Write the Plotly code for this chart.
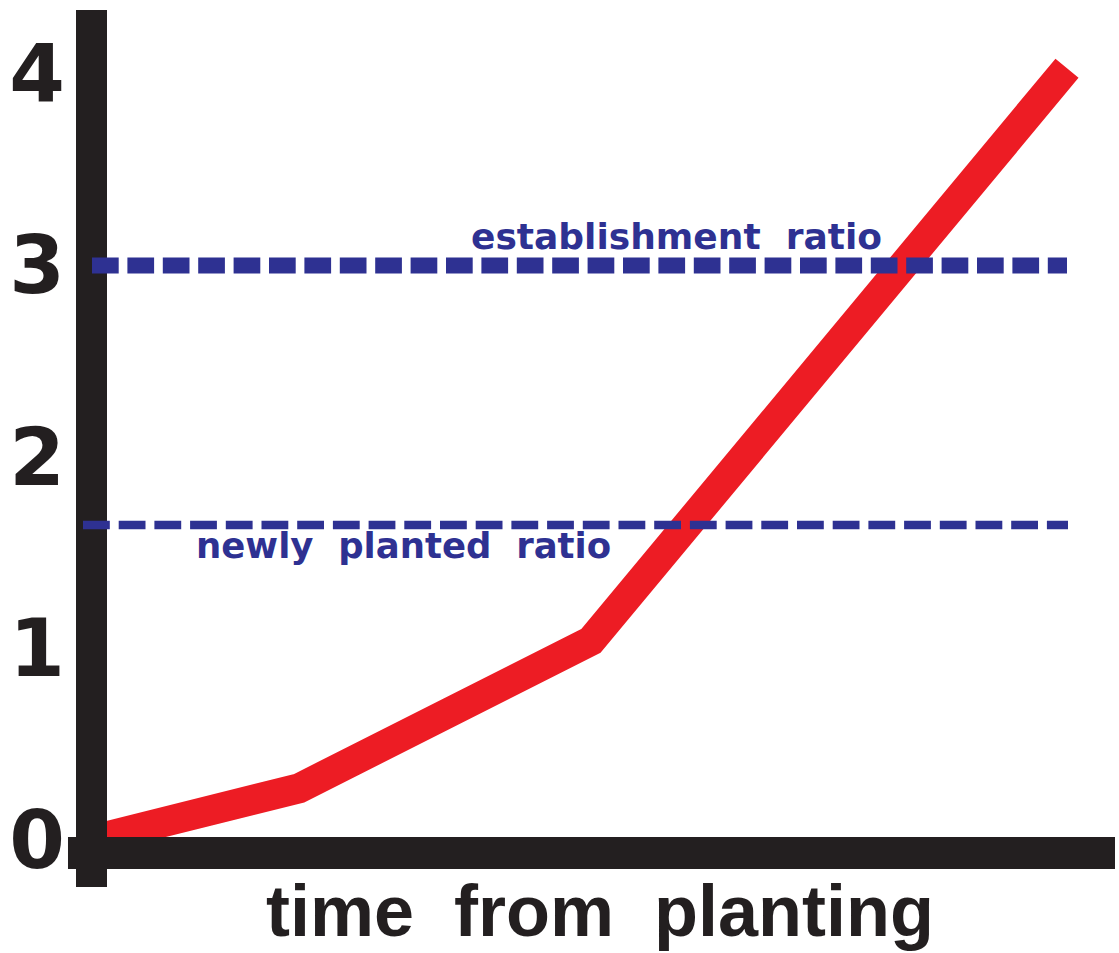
import plotly.graph_objects as go

# ---- data ----
time_vals = [0.0, 2.07, 4.99, 9.75]
ratio_vals = [0.0, 0.27, 1.04, 4.03]
establishment_ratio = 3.0
newly_planted_ratio = 1.645
y_ticks = [0, 1, 2, 3, 4]
y_tick_labels = ["0", "1", "2", "3", "4"]
x_title = "time  from  planting"
est_label = "establishment  ratio"
new_label = "newly  planted  ratio"

BLACK = "#231F20"
RED = "#ED1C24"
BLUE = "#2E3192"

fig = go.Figure()
fig.add_trace(go.Scatter(
    x=time_vals, y=ratio_vals, mode="lines",
    line=dict(color=RED, width=30, shape="linear"),
    hoverinfo="skip", showlegend=False,
))

shapes = [
    # y axis bar
    dict(type="line", xref="x", yref="paper", x0=-0.005, x1=-0.005, y0=0, y1=1,
         line=dict(color=BLACK, width=31), layer="above"),
    # x axis bar
    dict(type="line", xref="paper", yref="y", x0=0.0019, x1=1.0, y0=-0.068, y1=-0.068,
         line=dict(color=BLACK, width=32), layer="above"),
    # establishment ratio (thick dashes)
    dict(type="line", xref="x", yref="y", x0=0.0, x1=9.75,
         y0=establishment_ratio, y1=establishment_ratio,
         line=dict(color=BLUE, width=16, dash="26.7px,8.7px"), layer="above"),
    # newly planted ratio (thin dashes)
    dict(type="line", xref="x", yref="y", x0=-0.09, x1=9.76,
         y0=newly_planted_ratio, y1=newly_planted_ratio,
         line=dict(color=BLUE, width=8.6, dash="26.8px,8.9px"), layer="above"),
]

annotations = [
    dict(text=est_label, xref="x", yref="y", x=3.77, y=establishment_ratio,
         xanchor="left", yanchor="middle", yshift=29, showarrow=False,
         font=dict(family="DejaVu Sans", size=36, color=BLUE, weight="bold")),
    dict(text=new_label, xref="x", yref="y", x=1.02, y=newly_planted_ratio,
         xanchor="left", yanchor="middle", yshift=-21, showarrow=False,
         font=dict(family="DejaVu Sans", size=35.5, color=BLUE, weight="bold")),
    dict(text=x_title, xref="paper", yref="paper", x=(600 - 66) / 1049, y=0,
         xanchor="center", yanchor="bottom", yshift=-(953 - 887), showarrow=False,
         font=dict(family="Liberation Sans", size=72, color=BLACK, weight="bold")),
]

fig.update_layout(
    width=1119, height=953,
    margin=dict(l=66, r=4, t=10, b=66),
    paper_bgcolor="white", plot_bgcolor="white",
    showlegend=False,
    shapes=shapes,
    annotations=annotations,
    xaxis=dict(range=[-0.26, 10.23], showgrid=False, zeroline=False,
               showline=False, showticklabels=False, ticks="", fixedrange=True),
    yaxis=dict(range=[-0.2454, 4.334], showgrid=False, zeroline=False,
               showline=False, ticks="", tickmode="array",
               tickvals=y_ticks, ticktext=y_tick_labels,
               tickfont=dict(family="DejaVu Sans", size=80, color=BLACK, weight="bold"),
               fixedrange=True),
)

fig.write_html("out.html", config={"displayModeBar": False},
               post_script="document.body.style.margin='0';document.body.style.overflow='hidden';")
